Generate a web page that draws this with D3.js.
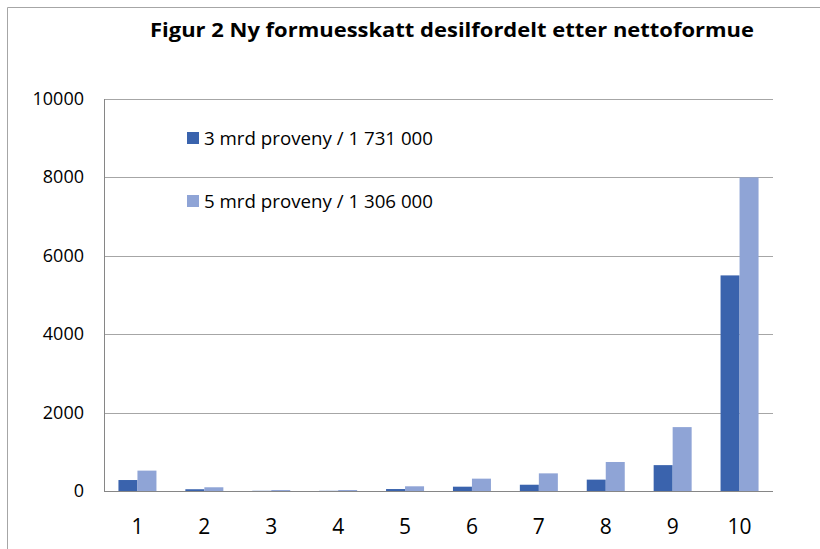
<!DOCTYPE html>
<html>
<head>
<meta charset="utf-8">
<script src="https://cdn.jsdelivr.net/npm/d3@7"></script>
<style>
  body { margin: 0; background: #fff; }
  svg { display: block; font-family: "Open Sans", "Noto Sans", sans-serif; }
</style>
</head>
<body>
<script>
// data
const deciles = ['1', '2', '3', '4', '5', '6', '7', '8', '9', '10'];
const seriesNames = ['3 mrd proveny / 1 731 000', '5 mrd proveny / 1 306 000'];
const proveny3 = [280, 45, 5, 5, 50, 110, 160, 290, 660, 5500];
const proveny5 = [520, 95, 25, 25, 120, 315, 450, 740, 1630, 8000];
const yTicks = [0, 2000, 4000, 6000, 8000, 10000];
const colors = ['#3A63AD', '#8FA4D6'];

var W = 820, H = 549;
var plotL = 104, plotR = 773, plotT = 99, plotB = 491;

var svg = d3.select('body')
  .append('svg')
  .attr('width', W)
  .attr('height', H);

// outer frame
svg.append('path')
  .attr('d', 'M7.5,' + H + 'V7.5H' + W)
  .attr('fill', 'none')
  .attr('stroke', '#a6a6a6')
  .attr('stroke-width', 1);

svg.append('text')
  .attr('x', 452)
  .attr('y', 37)
  .attr('text-anchor', 'middle')
  .attr('font-size', 20)
  .attr('font-weight', 'bold')
  .attr('textLength', 604)
  .attr('lengthAdjust', 'spacingAndGlyphs')
  .text('Figur 2 Ny formuesskatt desilfordelt etter nettoformue');

var x = d3.scaleBand()
  .domain(deciles)
  .range([plotL, plotR])
  .paddingInner(0.432)
  .paddingOuter(0.216);

var x1 = d3.scaleBand()
  .domain([0, 1])
  .range([0, x.bandwidth()]);

var y = d3.scaleLinear()
  .domain([0, 10000])
  .range([plotB, plotT]);

// gridlines
svg.append('g')
  .selectAll('line')
  .data(yTicks.slice(1))
  .enter()
  .append('line')
  .attr('x1', plotL)
  .attr('x2', plotR)
  .attr('y1', d => Math.round(y(d)) + 0.5)
  .attr('y2', d => Math.round(y(d)) + 0.5)
  .attr('stroke', '#a6a6a6');

// y labels
svg.append('g')
  .selectAll('text')
  .data(yTicks)
  .enter()
  .append('text')
  .attr('x', 84)
  .attr('y', d => y(d) + 6)
  .attr('text-anchor', 'end')
  .attr('font-size', 18)
  .text(d => d);

// bars
var groups = svg.append('g')
  .selectAll('g')
  .data(deciles)
  .enter()
  .append('g')
  .attr('transform', d => 'translate(' + x(d) + ',0)');

groups.selectAll('rect')
  .data((d, i) => [proveny3[i], proveny5[i]])
  .enter()
  .append('rect')
  .attr('x', (d, j) => x1(j))
  .attr('width', x1.bandwidth())
  .attr('y', d => y(d))
  .attr('height', d => plotB - y(d))
  .attr('fill', (d, j) => colors[j]);

// axis lines
svg.append('line')
  .attr('x1', plotL + 0.5).attr('x2', plotL + 0.5)
  .attr('y1', plotT).attr('y2', plotB + 0.5)
  .attr('stroke', '#868686');
svg.append('line')
  .attr('x1', plotL).attr('x2', plotR)
  .attr('y1', plotB + 0.5).attr('y2', plotB + 0.5)
  .attr('stroke', '#868686');

// x labels
svg.append('g')
  .selectAll('text')
  .data(deciles)
  .enter()
  .append('text')
  .attr('x', d => x(d) + x.bandwidth() / 2)
  .attr('y', 534)
  .attr('text-anchor', 'middle')
  .attr('font-size', 21)
  .text(d => d);

// legend
var legend = svg.append('g')
  .selectAll('g')
  .data(seriesNames)
  .enter()
  .append('g')
  .attr('transform', (d, i) => 'translate(187,' + (132 + i * 63) + ')');

legend.append('rect')
  .attr('width', 12)
  .attr('height', 12)
  .attr('fill', (d, i) => colors[i]);

legend.append('text')
  .attr('x', 17)
  .attr('y', 13)
  .attr('font-size', 18)
  .attr('textLength', 229)
  .attr('lengthAdjust', 'spacingAndGlyphs')
  .text(d => d);
</script>
</body>
</html>
